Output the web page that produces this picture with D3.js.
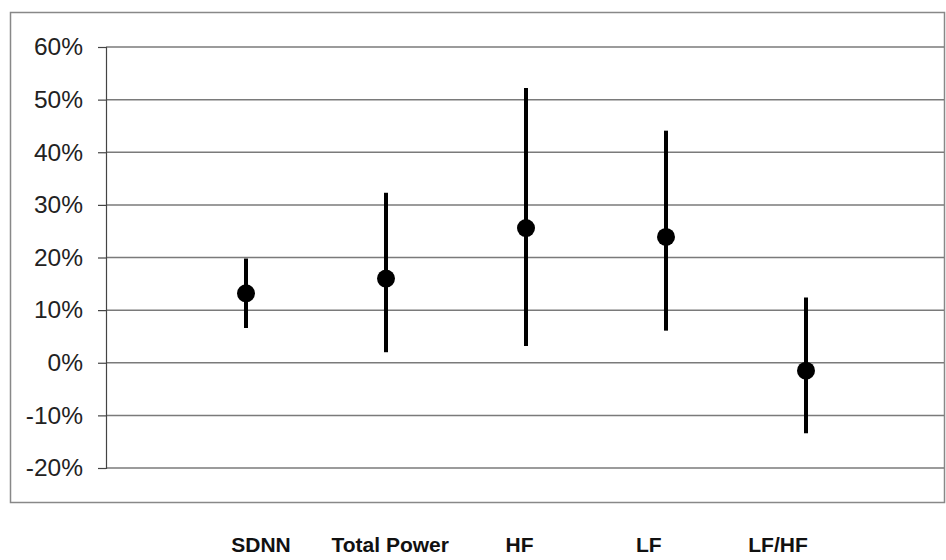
<!DOCTYPE html>
<html><head><meta charset="utf-8">
<script src="https://cdn.jsdelivr.net/npm/d3@7"></script>
<style>body{margin:0;background:#fff}</style>
</head><body>
<svg id="c" width="946" height="560"></svg>
<script>
const categories = ["SDNN", "Total Power", "HF", "LF", "LF/HF"];
const means = [13.2, 16.0, 25.6, 23.9, -1.5];
const upper = [19.8, 32.3, 52.2, 44.1, 12.4];
const lower = [6.6, 2.0, 3.2, 6.1, -13.4];
const yTicks = [-20, -10, 0, 10, 20, 30, 40, 50, 60];

(function () {
const svg = d3.select("#c");
const mLeft = 106, mRight = 946, mTop = 47, mBottom = 468;
const y = d3.scaleLinear().domain([-20, 60]).range([mBottom, mTop]);
const x = d3.scaleLinear().domain([-1, 5]).range([mLeft, mRight]);
const xLab = d3.scaleLinear().domain([0, 4]).range([261, 778]);

svg.append("rect").attr("x", 10.5).attr("y", 12.5).attr("width", 934).attr("height", 490)
  .attr("fill", "none").attr("stroke", "#888").attr("stroke-width", 1.5);

svg.append("g").selectAll("line").data(yTicks).join("line")
  .attr("x1", mLeft).attr("x2", 944).attr("y1", d => y(d)).attr("y2", d => y(d))
  .attr("stroke", "#7a7a7a").attr("stroke-width", 1.5);

const ax = svg.append("g").attr("transform", `translate(${mLeft},0)`)
  .call(d3.axisLeft(y).tickValues(yTicks).tickSize(8).tickPadding(15).tickFormat(d => d + "%"));
ax.select(".domain").attr("stroke", "#444").attr("stroke-width", 1.2);
ax.selectAll(".tick line").attr("stroke", "#444").attr("stroke-width", 1.2);
ax.selectAll("text").attr("font-family", "Liberation Sans, Arial, sans-serif")
  .attr("font-size", 24.5).attr("fill", "#222");

const idx = d3.range(categories.length);
svg.append("g").selectAll("line").data(idx).join("line")
  .attr("x1", i => x(i)).attr("x2", i => x(i))
  .attr("y1", i => y(upper[i])).attr("y2", i => y(lower[i]))
  .attr("stroke", "#000").attr("stroke-width", 4);

svg.append("g").selectAll("circle").data(idx).join("circle")
  .attr("cx", i => x(i)).attr("cy", i => y(means[i])).attr("r", 9).attr("fill", "#000");

svg.append("g").selectAll("text").data(idx).join("text")
  .attr("x", i => xLab(i)).attr("y", 552).attr("text-anchor", "middle")
  .attr("font-family", "Liberation Sans, Arial, sans-serif").attr("font-weight", "bold")
  .attr("font-size", 21).attr("fill", "#111").text(i => categories[i]);
})();
</script>
</body></html>
